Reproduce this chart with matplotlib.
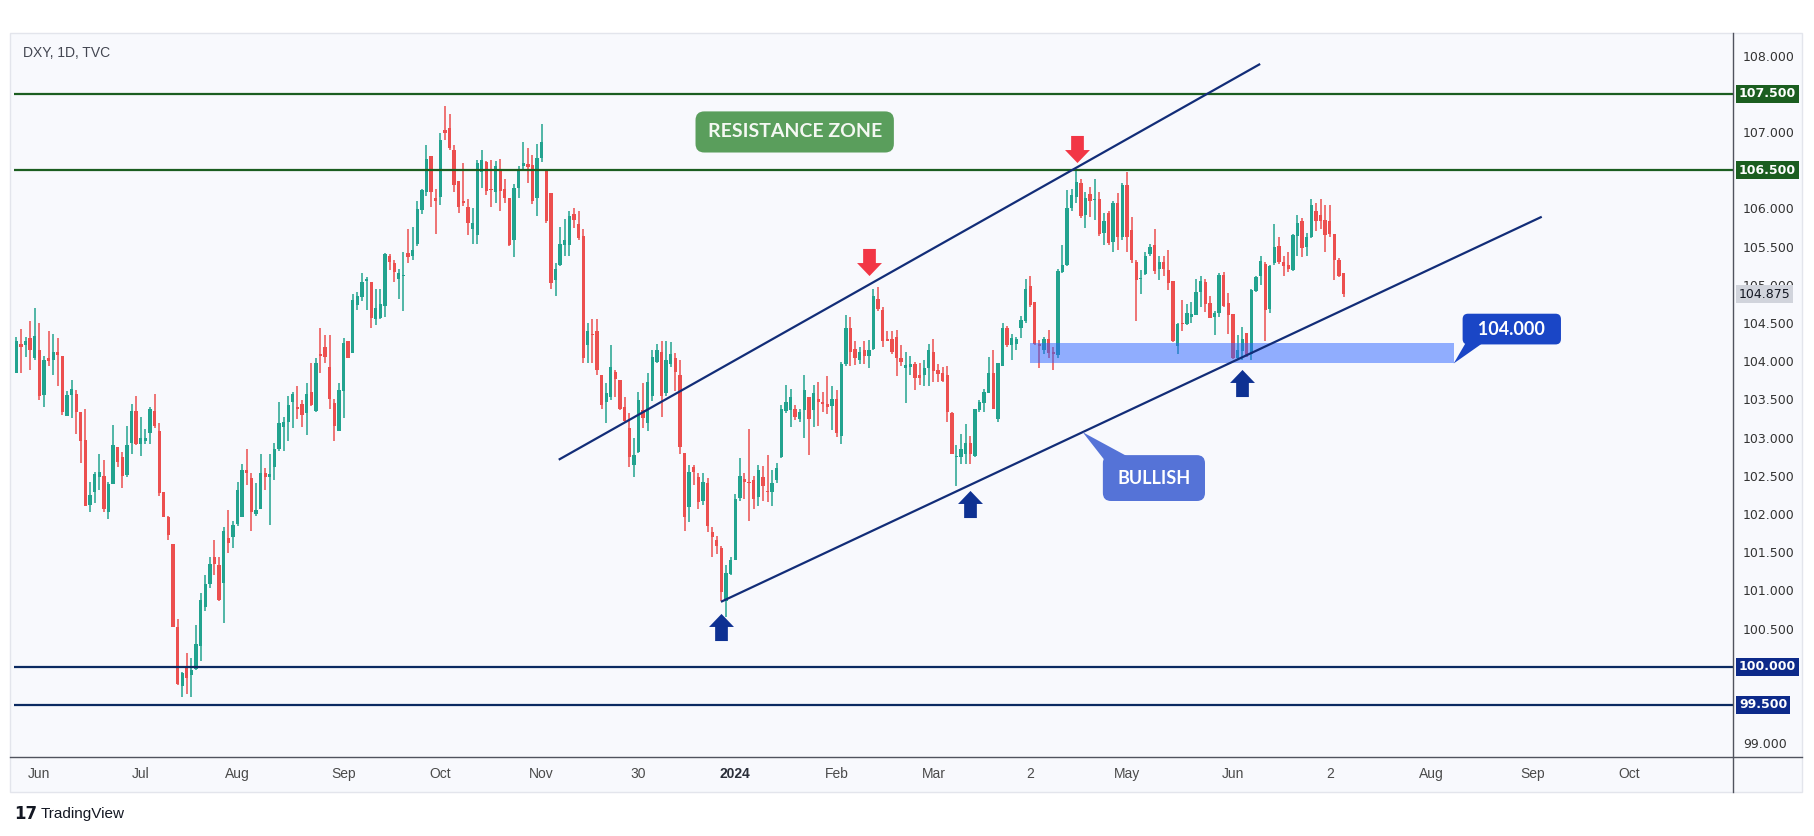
import numpy as np
import pandas as pd
import matplotlib
matplotlib.use("Agg")
import matplotlib.pyplot as plt
import matplotlib.transforms as mtransforms
from matplotlib.path import Path
from matplotlib.patches import Rectangle, Polygon
from matplotlib.lines import Line2D

# DXY daily candles (TVC), 2023-05-25 .. 2024-07-05, one row per month
opens = [
    103.85, 104.22, 104.21, 104.30, 104.04,
    104.15, 103.56, 104.04, 104.02, 104.12, 104.07, 103.28, 103.56, 103.57, 103.33, 102.97, 102.12, 102.29, 102.48, 102.50, 102.03, 102.39, 102.87, 102.75, 102.51, 102.93, 103.35,
    102.92, 102.96, 103.06, 103.35, 103.09, 102.29, 101.96, 101.61, 100.52, 99.75, 99.98, 99.89, 99.97, 100.27, 100.78, 101.08, 101.44, 101.33, 101.10, 101.69, 101.70,
    101.87, 101.96, 102.58, 102.47, 102.00, 102.07, 102.54, 102.48, 102.62, 102.85, 103.14, 103.21, 103.47, 103.40, 103.44, 103.32, 103.59, 103.35, 104.09, 104.18, 103.93, 103.45, 103.09,
    103.61, 104.27, 104.11, 104.73, 104.84, 105.05, 105.04, 104.55, 104.56, 104.72, 105.38, 105.28, 105.07, 105.11, 105.42, 105.37, 105.54, 105.98, 106.22, 106.68, 106.13,
    106.15, 107.02, 107.05, 106.76, 106.36, 106.10, 106.02, 105.73, 105.65, 106.48, 106.61, 106.25, 106.21, 106.52, 106.25, 106.14, 105.59, 106.26, 106.55, 106.58, 106.57, 106.14,
    106.66, 106.50, 106.20, 105.06, 105.26, 105.52, 105.52, 105.93, 105.80, 105.64, 104.21, 104.35, 104.40, 103.82, 103.46, 103.53, 103.86, 103.75, 103.40, 103.12, 102.64, 102.81,
    103.36, 103.19, 103.54, 103.99, 104.12, 103.58, 103.96, 104.04, 103.82, 102.80, 102.09, 102.61, 102.48, 102.17, 102.41, 101.77, 101.66, 101.55, 100.86, 101.21,
    101.40, 102.21, 102.46, 102.41, 102.45, 102.22, 102.49, 102.30, 102.29, 102.44, 102.74, 103.35, 103.36, 103.37, 103.24, 103.36, 103.53, 103.36, 103.51, 103.47, 103.44, 103.41,
    103.51, 103.02, 103.96, 104.43, 104.16, 104.02, 104.15, 104.07, 104.16, 104.82, 104.67, 104.29, 104.29, 104.31, 104.04, 103.91, 103.92, 103.96, 103.82, 103.82, 103.91,
    104.12, 103.88, 103.84, 103.82, 103.32, 102.74, 102.74, 102.79, 102.93, 102.76, 103.36, 103.45, 103.58, 103.84, 103.24, 103.94, 104.44, 104.21, 104.23, 104.43,
    104.52, 104.99, 104.78, 104.22, 104.14, 104.29, 104.12, 104.08, 105.17, 105.26, 106.00, 106.15, 106.33, 105.91, 106.19, 106.11, 106.12, 105.68, 105.94, 105.56, 106.07, 105.62,
    106.31, 105.72, 105.30, 105.08, 105.14, 105.40, 105.52, 105.20, 105.30, 105.19, 105.05, 104.20, 104.50, 104.49, 104.58, 104.61, 104.90, 105.04, 104.76, 104.58, 104.63, 105.13, 104.76,
    104.62, 104.04, 104.13, 104.37, 104.09, 104.92, 105.11, 105.27, 104.68, 105.29, 105.51, 105.30, 105.26, 105.19, 105.64, 105.83, 105.50, 105.62, 105.96, 105.91,
    105.85, 105.84, 105.66, 105.33, 105.16,
]
highs = [
    104.32, 104.42, 104.31, 104.53, 104.69,
    104.50, 104.07, 104.39, 104.36, 104.30, 104.07, 103.61, 103.75, 103.62, 103.33, 103.37, 102.42, 102.55, 102.78, 102.71, 102.42, 103.16, 102.87, 102.81, 103.15, 103.44, 103.54,
    103.27, 103.11, 103.40, 103.57, 103.19, 102.29, 101.97, 101.61, 100.62, 99.93, 100.18, 100.11, 100.55, 100.97, 101.20, 101.44, 101.66, 101.44, 101.83, 102.05, 101.91,
    102.42, 102.65, 102.85, 102.54, 102.41, 102.79, 102.60, 102.79, 102.93, 103.46, 103.27, 103.54, 103.60, 103.67, 103.49, 103.71, 103.97, 104.04, 104.44, 104.34, 104.34, 103.51, 103.72,
    104.30, 104.27, 104.88, 104.91, 105.15, 105.10, 105.04, 104.95, 104.95, 105.42, 105.40, 105.32, 105.20, 105.43, 105.73, 105.76, 106.09, 106.25, 106.83, 106.68, 106.25,
    106.99, 107.34, 107.23, 106.83, 106.36, 106.60, 106.12, 106.01, 106.63, 106.77, 106.62, 106.63, 106.62, 106.65, 106.39, 106.14, 106.32, 106.55, 106.87, 106.79, 106.70, 106.84,
    107.11, 106.50, 106.20, 105.28, 105.76, 105.86, 105.96, 106.00, 105.96, 105.73, 104.50, 104.55, 104.55, 103.82, 103.72, 104.21, 103.88, 103.75, 103.53, 103.32, 103.00, 103.60,
    103.72, 103.85, 104.15, 104.23, 104.27, 104.27, 104.25, 104.11, 104.02, 102.80, 102.64, 102.64, 102.54, 102.54, 102.47, 101.83, 101.71, 101.58, 101.33, 101.44,
    102.26, 102.73, 102.53, 103.11, 102.50, 102.64, 102.63, 102.77, 102.58, 102.67, 103.43, 103.69, 103.63, 103.43, 103.38, 103.82, 103.53, 103.69, 103.73, 103.60, 103.81, 103.67,
    103.62, 103.99, 104.60, 104.58, 104.27, 104.19, 104.27, 104.28, 104.95, 104.97, 104.71, 104.39, 104.39, 104.41, 104.21, 104.12, 104.07, 103.99, 103.97, 104.02, 104.23,
    104.29, 103.96, 103.93, 103.94, 103.34, 102.90, 103.05, 103.18, 103.02, 103.37, 103.49, 103.64, 104.06, 104.15, 103.97, 104.50, 104.46, 104.36, 104.32, 104.59,
    105.07, 105.11, 104.78, 104.28, 104.31, 104.41, 104.19, 105.21, 105.52, 106.24, 106.25, 106.49, 106.39, 106.22, 106.28, 106.38, 106.22, 105.94, 105.97, 106.09, 106.20, 106.33,
    106.48, 105.89, 105.32, 105.19, 105.43, 105.54, 105.73, 105.37, 105.38, 105.46, 105.05, 104.50, 104.80, 104.75, 104.78, 105.08, 105.11, 105.08, 104.85, 104.65, 105.15, 105.17, 104.89,
    104.62, 104.34, 104.45, 104.37, 104.95, 105.11, 105.38, 105.30, 105.26, 105.80, 105.62, 105.38, 105.43, 105.66, 105.91, 105.87, 105.68, 106.12, 106.07, 106.12,
    106.04, 106.04, 105.66, 105.35, 105.16,
]
lows = [
    103.85, 103.85, 104.05, 103.89, 104.02,
    103.49, 103.40, 103.94, 103.82, 103.67, 103.30, 103.28, 103.25, 103.05, 102.67, 102.10, 102.02, 102.15, 102.32, 102.03, 101.93, 102.39, 102.62, 102.34, 102.49, 102.79, 102.90,
    102.76, 102.92, 102.92, 103.13, 102.23, 101.96, 101.66, 100.52, 99.76, 99.61, 99.64, 99.61, 99.96, 100.08, 100.73, 101.03, 101.20, 100.86, 100.57, 101.49, 101.55,
    101.84, 101.96, 102.38, 101.78, 101.97, 102.06, 102.31, 101.85, 102.44, 102.82, 102.83, 102.95, 103.12, 103.24, 103.14, 103.03, 103.41, 103.34, 103.85, 103.98, 103.38, 102.95, 103.08,
    103.26, 104.04, 104.11, 104.67, 104.79, 104.67, 104.43, 104.47, 104.55, 104.58, 105.19, 105.03, 104.81, 104.66, 105.28, 105.32, 105.51, 105.93, 106.16, 106.02, 105.66,
    106.04, 106.90, 106.77, 106.22, 105.94, 106.03, 105.65, 105.54, 105.53, 106.26, 106.17, 106.02, 106.07, 105.97, 106.07, 105.51, 105.36, 106.14, 106.50, 106.33, 106.06, 105.90,
    106.61, 105.81, 104.94, 104.85, 105.25, 105.38, 105.38, 105.74, 105.59, 103.98, 103.98, 103.98, 103.82, 103.37, 103.19, 103.49, 103.53, 103.36, 103.19, 102.62, 102.48, 102.80,
    103.12, 103.09, 103.48, 103.98, 103.27, 103.54, 103.93, 103.61, 102.79, 101.78, 101.89, 102.38, 102.07, 102.12, 101.76, 101.44, 101.47, 100.86, 100.65, 101.20,
    101.40, 102.17, 102.19, 101.91, 102.07, 102.10, 102.17, 102.16, 102.10, 102.41, 102.73, 103.32, 103.14, 103.23, 103.21, 102.99, 102.77, 103.14, 103.15, 103.34, 103.31, 103.10,
    103.01, 102.92, 103.94, 103.94, 103.95, 103.96, 103.96, 103.91, 104.15, 104.65, 104.19, 104.26, 104.10, 103.80, 103.94, 103.45, 103.82, 103.62, 103.69, 103.67, 103.67,
    103.73, 103.73, 103.73, 103.21, 102.78, 102.37, 102.66, 102.66, 102.66, 102.75, 103.33, 103.34, 103.58, 103.37, 103.20, 103.94, 104.19, 104.02, 104.15, 104.30,
    104.50, 104.71, 104.21, 103.91, 104.10, 104.04, 103.88, 104.04, 105.15, 105.25, 105.96, 106.07, 105.87, 105.74, 105.89, 105.85, 105.64, 105.52, 105.52, 105.43, 105.46, 105.59,
    105.43, 105.28, 104.53, 104.88, 105.13, 105.38, 105.14, 105.06, 105.11, 104.93, 104.25, 104.09, 104.39, 104.47, 104.50, 104.61, 104.71, 104.64, 104.56, 104.34, 104.58, 104.71, 104.36,
    104.03, 104.01, 104.01, 104.05, 104.01, 104.91, 105.00, 104.26, 104.63, 105.26, 105.27, 105.11, 105.17, 105.18, 105.38, 105.36, 105.37, 105.61, 105.71, 105.73,
    105.43, 105.62, 105.06, 105.10, 104.84,
]
closes = [
    104.26, 104.19, 104.27, 104.15, 104.33,
    103.54, 104.01, 104.00, 104.12, 104.08, 103.34, 103.56, 103.64, 103.33, 102.95, 102.10, 102.25, 102.52, 102.55, 102.06, 102.39, 102.90, 102.68, 102.50, 102.90, 103.35, 102.92,
    103.00, 103.00, 103.38, 103.15, 102.27, 101.96, 101.72, 100.52, 99.77, 99.92, 99.85, 99.96, 100.30, 100.88, 101.08, 101.35, 101.34, 100.88, 101.78, 101.62, 101.85,
    102.31, 102.58, 102.54, 102.03, 102.05, 102.54, 102.49, 102.52, 102.85, 103.19, 103.21, 103.43, 103.57, 103.37, 103.30, 103.57, 103.43, 103.98, 104.07, 104.05, 103.51, 103.15, 103.62,
    104.24, 104.04, 104.80, 104.85, 105.04, 105.07, 104.56, 104.69, 104.75, 105.40, 105.30, 105.17, 105.15, 105.11, 105.36, 105.45, 105.99, 106.24, 106.65, 106.21, 106.10,
    106.89, 106.98, 106.79, 106.31, 106.02, 106.07, 105.81, 105.81, 106.60, 106.63, 106.23, 106.24, 106.55, 106.23, 106.13, 105.52, 106.26, 106.51, 106.59, 106.54, 106.10, 106.66,
    106.87, 105.83, 105.02, 105.20, 105.53, 105.58, 105.90, 105.85, 105.61, 104.04, 104.39, 104.34, 103.89, 103.43, 103.58, 103.93, 103.76, 103.37, 103.22, 102.74, 102.77, 103.49,
    103.26, 103.73, 104.06, 104.15, 103.54, 104.02, 104.10, 103.86, 102.87, 101.96, 102.55, 102.55, 102.16, 102.42, 101.84, 101.70, 101.58, 100.98, 101.23, 101.40,
    102.20, 102.50, 102.42, 102.40, 102.20, 102.58, 102.36, 102.29, 102.41, 102.60, 103.37, 103.46, 103.53, 103.27, 103.34, 103.62, 103.24, 103.58, 103.47, 103.44, 103.40, 103.51,
    103.06, 103.96, 104.44, 104.12, 104.04, 104.12, 104.07, 104.14, 104.85, 104.68, 104.27, 104.27, 104.12, 104.04, 103.99, 103.95, 103.96, 103.78, 103.78, 103.91, 104.15,
    103.87, 103.83, 103.74, 103.33, 102.79, 102.74, 102.85, 102.93, 102.78, 103.37, 103.47, 103.59, 103.84, 103.37, 103.97, 104.44, 104.21, 104.30, 104.29, 104.54,
    104.95, 104.73, 104.23, 104.20, 104.29, 104.11, 104.10, 105.18, 105.26, 106.00, 106.18, 106.35, 105.90, 106.14, 106.10, 106.11, 105.67, 105.83, 105.55, 106.07, 105.62, 106.31,
    105.62, 105.32, 105.06, 105.09, 105.38, 105.50, 105.18, 105.30, 105.21, 105.02, 104.27, 104.49, 104.49, 104.63, 104.62, 104.91, 105.05, 104.75, 104.57, 104.63, 105.13, 104.72, 104.60,
    104.04, 104.15, 104.29, 104.08, 104.93, 105.10, 105.31, 104.67, 105.24, 105.50, 105.30, 105.24, 105.20, 105.65, 105.81, 105.48, 105.62, 106.04, 105.83, 105.84,
    105.65, 105.66, 105.33, 105.11, 104.875,
]

# date axis
tick_dates = ["2023-06-01", "2023-07-03", "2023-08-01", "2023-09-01", "2023-10-02", "2023-11-01",
              "2023-11-30", "2024-01-02", "2024-02-01", "2024-03-01", "2024-04-02", "2024-05-01",
              "2024-06-03", "2024-07-02", "2024-08-01", "2024-09-02", "2024-10-01"]
tick_labels = ["Jun", "Jul", "Aug", "Sep", "Oct", "Nov", "30", "2024", "Feb", "Mar", "2",
               "May", "Jun", "2", "Aug", "Sep", "Oct"]
price_ticks = [99.0, 100.5, 101.0, 101.5, 102.0, 102.5, 103.0, 103.5, 104.0, 104.5, 105.0,
               105.5, 106.0, 107.0, 108.0]

# levels and drawings (bar index, price)
green_levels = [107.5, 106.5]
navy_levels = [100.0, 99.5]
last_price = 104.875
upper_x, upper_y = [117.7, 269.9], [102.71, 107.89]
lower_x, lower_y = [152.9, 331.0], [100.85, 105.89]
zone_x, zone_y = [220.0, 311.9], [103.97, 104.24]
up_x, up_y = [153.0, 207.0, 266.0], [100.52, 102.13, 103.72]
down_x, down_y = [185.05, 230.1], [105.30, 106.78]

UP, DOWN = "#22a38f", "#ec4f4f"
NAVY = "#122d78"
GREEN = "#1b5e20"
BG = "#f8f9fd"

W, H = 1815, 836
fig = plt.figure(figsize=(W / 100, H / 100), dpi=100)
fig.patch.set_facecolor("white")


def fx(px):
    return px / W


def fy(py):
    return 1 - py / H


fig.patches.append(Rectangle((fx(10), fy(792)), fx(1802) - fx(10), fy(33) - fy(792),
                             transform=fig.transFigure, fc=BG, ec="#e3e5ec", lw=1, zorder=-1))
ax = fig.add_axes([fx(14), fy(757), fx(1733) - fx(14), fy(35) - fy(757)])
ax.set_facecolor(BG)
for s in ax.spines.values():
    s.set_visible(False)

holidays = pd.to_datetime(["2023-12-25", "2024-01-01", "2024-03-29"])
days = pd.bdate_range("2023-05-25", "2024-10-31")
days = days[~days.isin(holidays)]

o = np.array(opens)
h = np.array(highs)
l = np.array(lows)
c = np.array(closes)
x = np.arange(len(c))
cols = np.where(c >= o, UP, DOWN)

ax.vlines(x, l, h, colors=cols, lw=1.1, zorder=2)
ax.bar(x, np.maximum(np.abs(c - o), 0.014), bottom=np.minimum(o, c), width=0.72,
       color=cols, linewidth=0, zorder=3)

for lv in green_levels:
    ax.axhline(lv, color=GREEN, lw=1.6, zorder=4)
for lv in navy_levels:
    ax.axhline(lv, color="#0b2a62", lw=1.6, zorder=4)

ax.plot(upper_x, upper_y, color=NAVY, lw=1.6, zorder=5, solid_capstyle="butt")
ax.plot(lower_x, lower_y, color=NAVY, lw=1.6, zorder=5, solid_capstyle="butt")

ax.add_patch(Rectangle((zone_x[0], zone_y[0]), zone_x[1] - zone_x[0], zone_y[1] - zone_y[0],
                       fc="#2962ff", alpha=0.5, ec="none", zorder=4.5))

# block arrows as custom markers
arrow_up = [(-0.92, 0.04), (0.0, 1.0), (0.92, 0.04), (0.47, 0.04), (0.47, -1.0),
            (-0.47, -1.0), (-0.47, 0.04), (-0.92, 0.04)]
mk_up = Path(arrow_up, closed=True)
mk_down = Path([(px, -py) for px, py in arrow_up], closed=True)
ax.plot(up_x, up_y, ls="none", marker=mk_up, ms=19.5, color="#0e3192", mec="none", zorder=6)
ax.plot(down_x, down_y, ls="none", marker=mk_down, ms=19.5, color="#f23645", mec="none", zorder=6)

# callouts
ax.text(168.9, 107.0, "RESISTANCE ZONE", family="Lato", weight="bold", fontsize=14,
        color="#f4f8f2", ha="center", va="center", zorder=8,
        bbox=dict(boxstyle="round,pad=0.62,rounding_size=0.45", fc="#5a9e5c", ec="none"))

ax.add_patch(Polygon([(231.4, 103.07), (236.2, 102.70), (241.5, 102.74)], closed=True,
                     fc="#5573d7", ec="none", zorder=7))
ax.text(246.85, 102.47, "BULLISH", family="Lato", weight="bold", fontsize=13,
        color="white", ha="center", va="center", zorder=8,
        bbox=dict(boxstyle="round,pad=0.8,rounding_size=0.45", fc="#5573d7", ec="none"))

ax.add_patch(Polygon([(311.9, 103.97), (314.8, 104.27), (318.5, 104.25)], closed=True,
                     fc="#1a46c6", ec="none", zorder=7))
ax.text(324.5, 104.42, "  104.000  ", family="Lato", weight="bold", fontsize=13,
        color="white", ha="center", va="center", zorder=8,
        bbox=dict(boxstyle="round,pad=0.38,rounding_size=0.3", fc="#1a46c6", ec="none"))

ax.text(9 / 1719, 1 - 18 / 722, "DXY, 1D, TVC", transform=ax.transAxes, ha="left", va="center",
        family=["Liberation Sans", "DejaVu Sans"], fontsize=10, color="#434651")

# axes
ax.set_xlim(-0.5, 372.5)
ax.set_ylim(98.819, 108.269)
tick_pos = [days.get_loc(pd.Timestamp(d)) for d in tick_dates]
ax.set_xticks(tick_pos)
ax.set_xticklabels(tick_labels, family=["Liberation Sans Narrow", "Liberation Sans", "DejaVu Sans"],
                   fontsize=10, color="#4a4a4a")
for t in ax.get_xticklabels():
    if t.get_text() == "2024":
        t.set_fontweight("bold")
        t.set_color("#2a2e39")
ax.tick_params(axis="x", length=0, pad=7)

ax.yaxis.tick_right()
ax.set_yticks(price_ticks)
ax.set_yticklabels([f"{p:.3f}" for p in price_ticks], family="DejaVu Sans", fontsize=9,
                   color="#333333")
ax.tick_params(axis="y", length=0, pad=7.2)

trans = mtransforms.blended_transform_factory(ax.transAxes, ax.transData)
for lv in green_levels:
    ax.text(1 + 6 / 1719, lv, f"{lv:.3f}", transform=trans, ha="left", va="center",
            family="DejaVu Sans", weight="bold", fontsize=9, color="white", clip_on=False,
            zorder=10, bbox=dict(boxstyle="square,pad=0.2", fc=GREEN, ec="none"))
for lv in navy_levels:
    ax.text(1 + 6 / 1719, lv, f"{lv:.3f}", transform=trans, ha="left", va="center",
            family="DejaVu Sans", weight="bold", fontsize=9, color="white", clip_on=False,
            zorder=10, bbox=dict(boxstyle="square,pad=0.2", fc="#0d2a8a", ec="none"))
ax.text(1 + 6 / 1719, last_price, f"{last_price:.3f}", transform=trans, ha="left", va="center",
        family="DejaVu Sans", fontsize=9, color="#131722", clip_on=False, zorder=10,
        bbox=dict(boxstyle="square,pad=0.2", fc="#d1d4dc", ec="none"))

# chart frame separators
fig.add_artist(Line2D([fx(1733), fx(1733)], [fy(33), fy(792)], transform=fig.transFigure,
                      color="#50535e", lw=1))
fig.add_artist(Line2D([fx(10), fx(1802)], [fy(757), fy(757)], transform=fig.transFigure,
                      color="#50535e", lw=1))

# footer logo
fig.text(fx(14), fy(814), "17", family="DejaVu Sans", weight="heavy", fontsize=12,
         color="#131722", va="center", ha="left")
fig.text(fx(41), fy(814), "TradingView", family=["Liberation Sans", "DejaVu Sans"],
         fontsize=11, color="#131722", va="center", ha="left")

fig.savefig("out.png", dpi=100, facecolor="white")
